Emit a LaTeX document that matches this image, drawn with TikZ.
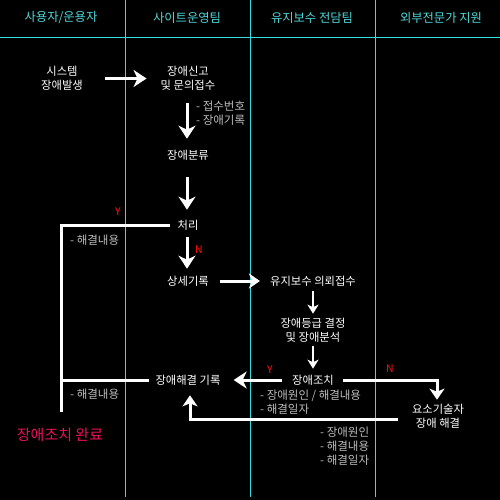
\documentclass[tikz,border=0pt]{standalone}
\usepackage{fontspec}
\setmainfont{Noto Sans CJK KR}
\usetikzlibrary{arrows.meta}
\definecolor{lane}{HTML}{33DDE0}
\definecolor{lanetext}{HTML}{4FD8D8}
\definecolor{note}{HTML}{BBBBBB}
\definecolor{yn}{HTML}{FF1010}
\definecolor{done}{HTML}{E8105A}
\tikzset{
  laneline/.style={draw=lane, line width=0.8pt},
  head/.style={text=lanetext, font=\fontsize{12.3}{14}\selectfont, inner sep=0pt},
  txt/.style={text=white, font=\fontsize{11.3}{14}\selectfont, align=center, inner sep=0pt},
  notetxt/.style={text=note, font=\fontsize{11.5}{14}\selectfont, align=left, anchor=west, inner sep=0pt},
  ynlab/.style={text=yn, font=\fontsize{10.5}{11}\selectfont, inner sep=0pt},
  bigarr/.style={draw=white, line width=3pt, -{Stealth[length=13pt,width=17pt,inset=4pt]}},
  midarr/.style={draw=white, line width=3pt, -{Stealth[length=11pt,width=15pt,inset=3pt]}},
  smallarr/.style={draw=white, line width=2.2pt, -{Stealth[length=9pt,width=11pt,inset=2.5pt]}},
  plainline/.style={draw=white, line width=3pt},
}
\begin{document}
\begin{tikzpicture}[x=1pt,y=-1pt]
\fill[black] (0,0) rectangle (500,500);
\useasboundingbox (0,0) rectangle (500,500);
% lanes
\draw[laneline] (0,37) -- (500,37);
\draw[laneline] (125,0) -- (125,497);
\draw[laneline] (250,0) -- (250,497);
\draw[laneline] (375,0) -- (375,497);
\node[head] (h1) at (61,18) {사용자/운용자};
\node[head] (h2) at (187,18) {사이트운영팀};
\node[head] (h3) at (312,18) {유지보수 전담팀};
\node[head] (h4) at (441,18) {외부전문가 지원};
% nodes
\node[txt] (sys) at (62,78.5) {시스템\\장애발생};
\node[txt] (rep) at (188,78.5) {장애신고\\및 문의접수};
\node[txt] (cls) at (188,155) {장애분류};
\node[txt] (proc) at (188,225) {처리};
\node[txt] (det) at (188,281) {상세기록};
\node[txt] (req) at (313,281) {유지보수 의뢰접수};
\node[txt] (ana) at (313,330) {장애등급 결정\\및 장애분석};
\node[txt] (act) at (313,380) {장애조치};
\node[txt] (rec) at (188,380) {장애해결 기록};
\node[txt] (ext) at (438,416) {요소기술자\\장애 해결};
\node[text=done, font=\fontsize{15}{16}\selectfont, inner sep=0pt] (fin) at (60,435) {장애조치 완료};
% notes
\node[notetxt] (n1) at (196,113) {- 접수번호\\- 장애기록};
\node[notetxt] (n2) at (70,240) {- 해결내용};
\node[notetxt] (n3) at (70,394) {- 해결내용};
\node[notetxt] (n4) at (260,402) {- 장애원인 / 해결내용\\- 해결일자};
\node[notetxt] (n5) at (320,446) {- 장애원인\\- 해결내용\\- 해결일자};
% Y / N
\node[ynlab] (y1) at (118,212) {Y};
\node[ynlab] (nn1) at (199,250) {N};
\node[ynlab] (y2) at (270,370) {Y};
\node[ynlab] (nn2) at (390,369) {N};
% coordinates
\coordinate (yl) at (61,225);
\coordinate (yb) at (61,412);
\coordinate (rl) at (61,380);
\coordinate (ncorner) at (437,380);
\coordinate (ecorner) at (190,419);
% connectors
\draw[bigarr, shorten <=22pt, shorten >=14pt] (sys) -- (rep);
\draw[bigarr, shorten <=12pt, shorten >=11pt] ([xshift=-1pt]rep.south) -- ([xshift=-1pt]cls.north);
\draw[bigarr, shorten <=17pt, shorten >=10pt] ([xshift=-1pt]cls.south) -- ([xshift=-1pt]proc.north);
\draw[bigarr, shorten <=7pt, shorten >=7pt] ([xshift=-1pt]proc.south) -- ([xshift=-1pt]det.north);
\draw[plainline, shorten <=7pt] (proc.west) -- (yl) -- (yb);
\draw[midarr, shorten <=11pt, shorten >=10pt] (det) -- (req);
\draw[smallarr, shorten <=5pt, shorten >=4pt] (req) -- (ana);
\draw[smallarr, shorten <=4pt, shorten >=6pt] (ana) -- (act);
\draw[bigarr, shorten <=10pt, shorten >=13pt] (act) -- (rec);
\draw[plainline, shorten <=6pt] (rec.west) -- (rl);
\draw[midarr, shorten >=4pt] ([xshift=9pt]act.east) -- (ncorner) -- (ext.north -| ncorner);
\draw[midarr, shorten >=10pt] ([xshift=-14pt,yshift=-3pt]ext.west) -- (ecorner) -- (rec.south -| ecorner);
\end{tikzpicture}
\end{document}
